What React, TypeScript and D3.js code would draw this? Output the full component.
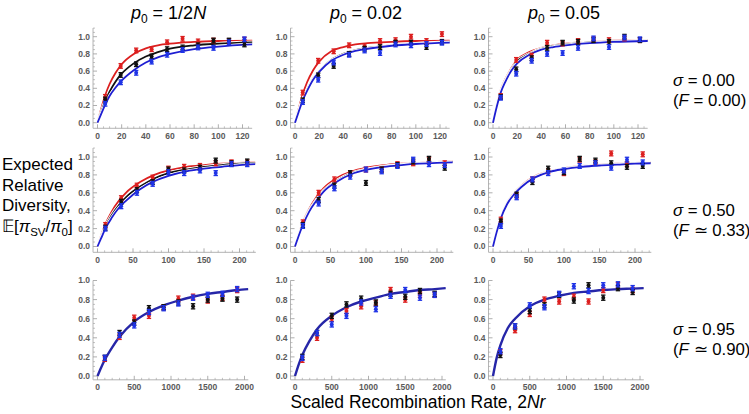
import React from "react";
import * as d3 from "d3";

// ---------------- data ----------------
const colTitles = ["1/2", "0.02", "0.05"];
const rowSigma = ["0.00", "0.50", "0.95"];
const rowF = ["= 0.00", "\u2243 0.33", "\u2243 0.90"];

const xPts1 = [6.4, 19.2, 32, 44.8, 57.6, 70.4, 83.2, 96, 108.8, 121.6];
const xPts2 = [11.1, 33.3, 55.5, 77.7, 99.9, 122.1, 144.3, 166.5, 188.7, 210.9];
const xPts3 = [100, 300, 500, 700, 900, 1100, 1300, 1500, 1700, 1900];

const xTicks1 = [0, 20, 40, 60, 80, 100, 120];
const xTicks2 = [0, 50, 100, 150, 200];
const xTicks3 = [0, 500, 1000, 1500, 2000];
const yTicks = [0, 0.2, 0.4, 0.6, 0.8, 1.0];

const curveX1 = [0, 3, 6.4, 10, 15, 20, 30, 40, 50, 60, 80, 100, 128];
const curveX2 = [0, 5, 11.1, 20, 30, 40, 60, 80, 100, 125, 150, 175, 200, 222];
const curveX3 = [0, 50, 100, 200, 300, 500, 700, 900, 1100, 1300, 1500, 1700, 1900, 2050];

// fitted curves
const r1c1CurveRed = [0, 0.16, 0.32, 0.45, 0.58, 0.68, 0.8, 0.865, 0.9, 0.92, 0.94, 0.95, 0.955];
const r1c1CurveBlack = [0, 0.12, 0.25, 0.36, 0.48, 0.57, 0.69, 0.77, 0.82, 0.86, 0.9, 0.92, 0.935];
const r1c1CurveBlue = [0, 0.1, 0.21, 0.31, 0.41, 0.49, 0.61, 0.7, 0.76, 0.8, 0.855, 0.885, 0.91];
const r1c2CurveRed = [0, 0.16, 0.33, 0.47, 0.61, 0.71, 0.83, 0.88, 0.91, 0.925, 0.94, 0.95, 0.955];
const r1c2CurveBlack = [0, 0.13, 0.27, 0.38, 0.51, 0.6, 0.73, 0.8, 0.845, 0.87, 0.9, 0.92, 0.935];
const r1c2CurveBlue = [0, 0.125, 0.26, 0.37, 0.5, 0.59, 0.72, 0.79, 0.835, 0.86, 0.895, 0.915, 0.93];
const r1c3CurveRed = [0, 0.2, 0.38, 0.5, 0.63, 0.73, 0.82, 0.87, 0.9, 0.92, 0.94, 0.955, 0.96];
const r1c3CurveBlack = [0, 0.19, 0.36, 0.48, 0.61, 0.71, 0.8, 0.86, 0.89, 0.91, 0.935, 0.945, 0.955];
const r1c3CurveBlue = [0, 0.18, 0.35, 0.47, 0.6, 0.69, 0.79, 0.85, 0.88, 0.9, 0.925, 0.94, 0.95];

const r2c1CurveRed = [0, 0.12, 0.25, 0.39, 0.51, 0.6, 0.72, 0.8, 0.85, 0.89, 0.91, 0.925, 0.935, 0.94];
const r2c1CurveBlack = [0, 0.1, 0.22, 0.35, 0.46, 0.55, 0.67, 0.76, 0.82, 0.86, 0.89, 0.91, 0.925, 0.93];
const r2c1CurveBlue = [0, 0.09, 0.2, 0.32, 0.43, 0.51, 0.64, 0.73, 0.79, 0.84, 0.87, 0.89, 0.91, 0.92];
const r2c2CurveRed = [0, 0.13, 0.27, 0.42, 0.55, 0.65, 0.77, 0.84, 0.88, 0.91, 0.925, 0.935, 0.945, 0.95];
const r2c2CurveBlack = [0, 0.12, 0.25, 0.4, 0.52, 0.62, 0.74, 0.82, 0.86, 0.895, 0.915, 0.93, 0.94, 0.945];
const r2c2CurveBlue = [0, 0.115, 0.24, 0.39, 0.51, 0.61, 0.73, 0.81, 0.855, 0.89, 0.91, 0.925, 0.935, 0.94];
const r2c3CurveRed = [0, 0.17, 0.33, 0.49, 0.6, 0.68, 0.79, 0.845, 0.875, 0.9, 0.915, 0.925, 0.935, 0.94];
const r2c3CurveBlack = [0, 0.16, 0.32, 0.48, 0.59, 0.67, 0.78, 0.84, 0.87, 0.895, 0.91, 0.92, 0.93, 0.935];
const r2c3CurveBlue = [0, 0.155, 0.315, 0.475, 0.585, 0.665, 0.775, 0.835, 0.865, 0.89, 0.905, 0.915, 0.925, 0.93];

const r3c1Curve = [0, 0.09, 0.17, 0.3, 0.41, 0.57, 0.67, 0.74, 0.79, 0.83, 0.86, 0.88, 0.9, 0.91];
const r3c2Curve = [0, 0.12, 0.22, 0.37, 0.49, 0.63, 0.72, 0.78, 0.82, 0.86, 0.88, 0.9, 0.91, 0.92];
const r3c3Curve = [0, 0.19, 0.32, 0.5, 0.6, 0.73, 0.8, 0.84, 0.87, 0.885, 0.9, 0.91, 0.915, 0.92];

// simulation points
const r1c1Red = [0.3, 0.66, 0.84, 0.855, 0.935, 0.975, 0.945, 0.955, 0.95, 0.965];
const r1c1Black = [0.27, 0.555, 0.68, 0.77, 0.855, 0.875, 0.9, 0.955, 0.955, 0.91];
const r1c1Blue = [0.22, 0.47, 0.58, 0.71, 0.79, 0.845, 0.875, 0.87, 0.935, 0.97];
const r1c2Red = [0.35, 0.72, 0.83, 0.9, 0.89, 0.95, 0.96, 1.0, 0.95, 1.03];
const r1c2Black = [0.26, 0.55, 0.66, 0.8, 0.86, 0.88, 0.93, 0.93, 0.88, 0.94];
const r1c2Blue = [0.24, 0.5, 0.7, 0.79, 0.84, 0.81, 0.91, 0.9, 0.915, 0.93];
const r1c3Red = [0.31, 0.73, 0.78, 0.93, 0.92, 0.95, 0.97, 0.96, 0.98, 0.96];
const r1c3Black = [0.3, 0.62, 0.75, 0.87, 0.93, 0.94, 0.96, 0.94, 1.0, 0.96];
const r1c3Blue = [0.29, 0.57, 0.72, 0.8, 0.81, 0.87, 0.98, 0.88, 0.99, 0.97];

const r2c1Red = [0.24, 0.54, 0.68, 0.77, 0.87, 0.89, 0.9, 0.93, 0.94, 0.94];
const r2c1Black = [0.21, 0.5, 0.63, 0.72, 0.86, 0.85, 0.88, 0.96, 0.93, 0.95];
const r2c1Blue = [0.2, 0.45, 0.6, 0.7, 0.83, 0.82, 0.85, 0.82, 0.92, 0.92];
const r2c2Red = [0.27, 0.6, 0.75, 0.81, 0.86, 0.86, 0.92, 0.93, 0.97, 0.93];
const r2c2Black = [0.24, 0.52, 0.68, 0.82, 0.71, 0.86, 0.91, 0.95, 0.98, 0.88];
const r2c2Blue = [0.23, 0.48, 0.65, 0.78, 0.86, 0.84, 0.9, 0.97, 0.92, 0.91];
const r2c3Red = [0.3, 0.57, 0.75, 0.84, 0.82, 0.97, 0.94, 1.04, 0.92, 1.03];
const r2c3Black = [0.28, 0.58, 0.72, 0.87, 0.83, 0.98, 0.96, 0.93, 0.89, 0.9];
const r2c3Blue = [0.23, 0.55, 0.75, 0.82, 0.85, 0.9, 0.93, 0.88, 0.97, 0.94];

const r3c1Red = [0.18, 0.41, 0.61, 0.63, 0.72, 0.81, 0.83, 0.79, 0.82, 0.9];
const r3c1Black = [0.19, 0.45, 0.56, 0.71, 0.72, 0.77, 0.73, 0.8, 0.81, 0.8];
const r3c1Blue = [0.19, 0.43, 0.53, 0.67, 0.71, 0.76, 0.82, 0.85, 0.86, 0.91];
const r3c2Red = [0.17, 0.4, 0.6, 0.68, 0.73, 0.76, 0.9, 0.8, 0.85, 0.85];
const r3c2Black = [0.2, 0.45, 0.63, 0.75, 0.81, 0.77, 0.86, 0.83, 0.89, 0.86];
const r3c2Blue = [0.19, 0.45, 0.54, 0.63, 0.77, 0.7, 0.84, 0.9, 0.82, 0.85];
const r3c3Red = [0.25, 0.48, 0.65, 0.8, 0.78, 0.83, 0.78, 0.9, 0.95, 0.9];
const r3c3Black = [0.22, 0.52, 0.68, 0.74, 0.85, 0.79, 0.95, 0.82, 0.92, 0.88];
const r3c3Blue = [0.26, 0.52, 0.74, 0.72, 0.86, 0.94, 0.89, 0.95, 0.96, 0.92];

const errHalf = 0.027;

// ---------------- layout / style ----------------
const W = 749;
const H = 414;
const FONT = "'Liberation Sans', Arial, Helvetica, sans-serif";
const RED = "#dc1f1f";
const BLACK = "#111111";
const BLUE = "#1f33e6";
const CURVE_BLUE = "#1e1ed2";
const NAVY = "#2626a8";

const colZero = [97.5, 295, 493];

const rows = [
  {
    xDom: [-3.7, 128], xPpu: 145 / 120, yZero: 122.7, yPpu: 86, yDom: [-0.065, 1.1],
    xTicks: xTicks1, xMinor: 5, xPts: xPts1, curveX: curveX1,
  },
  {
    xDom: [-6.3, 223], xPpu: 142 / 200, yZero: 246.5, yPpu: 89.5, yDom: [-0.065, 1.1],
    xTicks: xTicks2, xMinor: 10, xPts: xPts2, curveX: curveX2,
  },
  {
    xDom: [-61, 2052], xPpu: 147 / 2000, yZero: 376, yPpu: 95.5, yDom: [-0.04, 1.0],
    xTicks: xTicks3, xMinor: 100, xPts: xPts3, curveX: curveX3,
  },
];

const panelCurves: (number[] | null)[][][] = [
  [
    [r1c1CurveRed, r1c1CurveBlack, r1c1CurveBlue],
    [r1c2CurveRed, r1c2CurveBlack, r1c2CurveBlue],
    [r1c3CurveRed, r1c3CurveBlack, r1c3CurveBlue],
  ],
  [
    [r2c1CurveRed, r2c1CurveBlack, r2c1CurveBlue],
    [r2c2CurveRed, r2c2CurveBlack, r2c2CurveBlue],
    [r2c3CurveRed, r2c3CurveBlack, r2c3CurveBlue],
  ],
  [[null, null, r3c1Curve], [null, null, r3c2Curve], [null, null, r3c3Curve]],
];

const panelPts = [
  [
    [r1c1Red, r1c1Black, r1c1Blue],
    [r1c2Red, r1c2Black, r1c2Blue],
    [r1c3Red, r1c3Black, r1c3Blue],
  ],
  [
    [r2c1Red, r2c1Black, r2c1Blue],
    [r2c2Red, r2c2Black, r2c2Blue],
    [r2c3Red, r2c3Black, r2c3Blue],
  ],
  [
    [r3c1Red, r3c1Black, r3c1Blue],
    [r3c2Red, r3c2Black, r3c2Blue],
    [r3c3Red, r3c3Black, r3c3Blue],
  ],
];

const seriesColors = [RED, BLACK, BLUE];
const curveColors = [RED, BLACK, CURVE_BLUE];

function Panel({ row, col }: { row: number; col: number }) {
  const rc = rows[row];
  const zero = colZero[col];
  const x = d3
    .scaleLinear()
    .domain(rc.xDom)
    .range([zero + rc.xDom[0] * rc.xPpu, zero + rc.xDom[1] * rc.xPpu]);
  const y = d3
    .scaleLinear()
    .domain(rc.yDom)
    .range([rc.yZero - rc.yDom[0] * rc.yPpu, rc.yZero - rc.yDom[1] * rc.yPpu]);

  const x0 = x(rc.xDom[0]);
  const x1 = x(rc.xDom[1]);
  const yb = y(rc.yDom[0]);
  const yt = y(rc.yDom[1]);

  const xMinorTicks = d3.range(0, rc.xDom[1] + 1e-9, rc.xMinor).filter((v) => !rc.xTicks.includes(v));
  const yMinorTicks = d3.range(0, rc.yDom[1] + 1e-9, 0.05).filter(
    (v) => !yTicks.some((t) => Math.abs(t - v) < 1e-6)
  );

  const line = d3
    .line<[number, number]>()
    .x((d) => x(d[0]))
    .y((d) => y(d[1]))
    .curve(d3.curveMonotoneX);

  const curves = panelCurves[row][col];
  const pts = panelPts[row][col];
  const tickColor = "#9a9a9a";
  const axisColor = "#b4b4b4";
  const labelColor = "#5a5a5a";

  return (
    <g>
      {/* axes */}
      <line x1={x0} x2={x0} y1={yb} y2={yt} stroke={axisColor} strokeWidth={1} />
      <line x1={x0} x2={x1} y1={yb} y2={yb} stroke={axisColor} strokeWidth={1} />
      {yTicks.map((t) => (
        <g key={"yt" + t}>
          <line x1={x0} x2={x0 + 4} y1={y(t)} y2={y(t)} stroke={tickColor} strokeWidth={0.8} />
          <text
            x={x0 - 3}
            y={y(t)}
            dy="0.35em"
            textAnchor="end"
            fontSize={8.5}
            fontWeight="bold"
            fill={labelColor}
            fontFamily={FONT}
          >
            {t.toFixed(1)}
          </text>
        </g>
      ))}
      {yMinorTicks.map((t) => (
        <line key={"ym" + t} x1={x0} x2={x0 + 2} y1={y(t)} y2={y(t)} stroke={tickColor} strokeWidth={0.6} />
      ))}
      {rc.xTicks.map((t) => (
        <g key={"xt" + t}>
          <line x1={x(t)} x2={x(t)} y1={yb} y2={yb - 4} stroke={tickColor} strokeWidth={0.8} />
          <text
            x={x(t)}
            y={yb + 10.5}
            textAnchor="middle"
            fontSize={8.5}
            fontWeight="bold"
            fill={labelColor}
            fontFamily={FONT}
          >
            {t}
          </text>
        </g>
      ))}
      {xMinorTicks.map((t) => (
        <line key={"xm" + t} x1={x(t)} x2={x(t)} y1={yb} y2={yb - 2} stroke={tickColor} strokeWidth={0.6} />
      ))}

      {/* fitted curves */}
      {curves.map((c, i) => {
        if (!c) return null;
        const data: [number, number][] = rc.curveX.map((v, k) => [v, c[k]]);
        const d = line(data) || "";
        const color = row === 2 ? NAVY : curveColors[i];
        return (
          <g key={"c" + i}>
            {row === 2 ? null : <path d={d} fill="none" stroke="#ffffff" strokeWidth={3.4} />}
            <path d={d} fill="none" stroke={color} strokeWidth={row === 2 ? 2.4 : 1.8} />
          </g>
        );
      })}

      {/* simulation points with error bars */}
      {pts.map((vals, i) => (
        <g key={"p" + i}>
          {vals.map((v, k) => {
            const px = x(rc.xPts[k]);
            const ylo = y(v - errHalf);
            const yhi = y(v + errHalf);
            const c = seriesColors[i];
            return (
              <g key={k}>
                <line x1={px} x2={px} y1={ylo} y2={yhi} stroke={c} strokeWidth={1.8} />
                <line x1={px - 2.2} x2={px + 2.2} y1={ylo} y2={ylo} stroke={c} strokeWidth={1.3} />
                <line x1={px - 2.2} x2={px + 2.2} y1={yhi} y2={yhi} stroke={c} strokeWidth={1.3} />
                <circle cx={px} cy={y(v)} r={2} fill={c} />
              </g>
            );
          })}
        </g>
      ))}
    </g>
  );
}

export default function App() {
  const titleY = 19;
  const rowLabelY = [[86, 106], [216, 236], [335, 355]];
  return (
    <svg
      width={W}
      height={H}
      viewBox={`0 0 ${W} ${H}`}
      style={{ position: "absolute", left: 0, top: 0, background: "#fff" }}
      fontFamily={FONT}
    >
      <rect x={0} y={0} width={W} height={H} fill="#fff" />
      {colTitles.map((t, i) => (
        <text key={"ct" + i} x={colZero[i] + 71} y={titleY} textAnchor="middle" fontSize={18} fill="#000">
          <tspan fontStyle="italic">p</tspan>
          <tspan dy={4} fontSize={12}>0</tspan>
          <tspan dy={-4}>{" = " + t}</tspan>
          {i === 0 ? <tspan fontStyle="italic">N</tspan> : null}
        </text>
      ))}

      {rowSigma.map((s, i) => (
        <g key={"rl" + i}>
          <text x={673} y={rowLabelY[i][0]} fontSize={16.8} fill="#000">
            <tspan fontStyle="italic">{"\u03c3"}</tspan>
            <tspan>{" = " + s}</tspan>
          </text>
          <text x={673} y={rowLabelY[i][1]} fontSize={16.8} fill="#000">
            <tspan>(</tspan>
            <tspan fontStyle="italic">F</tspan>
            <tspan>{" " + rowF[i] + ")"}</tspan>
          </text>
        </g>
      ))}

      <g fontSize={17} fill="#000">
        <text x={2} y={170}>Expected</text>
        <text x={2} y={190.5}>Relative</text>
        <text x={2} y={211}>Diversity,</text>
        <text x={2} y={231.5}>
          <tspan>{"\ud835\udd3c["}</tspan>
          <tspan fontStyle="italic">{"\u03c0"}</tspan>
          <tspan dy={4} fontSize={11.5}>SV</tspan>
          <tspan dy={-4}>/</tspan>
          <tspan fontStyle="italic">{"\u03c0"}</tspan>
          <tspan dy={4} fontSize={11.5}>0</tspan>
          <tspan dy={-4}>]</tspan>
        </text>
      </g>

      <text x={418} y={408} textAnchor="middle" fontSize={17.5} fill="#000">
        <tspan>Scaled Recombination Rate, 2</tspan>
        <tspan fontStyle="italic">Nr</tspan>
      </text>

      {[0, 1, 2].map((r) => [0, 1, 2].map((c) => <Panel key={r + "-" + c} row={r} col={c} />))}
    </svg>
  );
}
